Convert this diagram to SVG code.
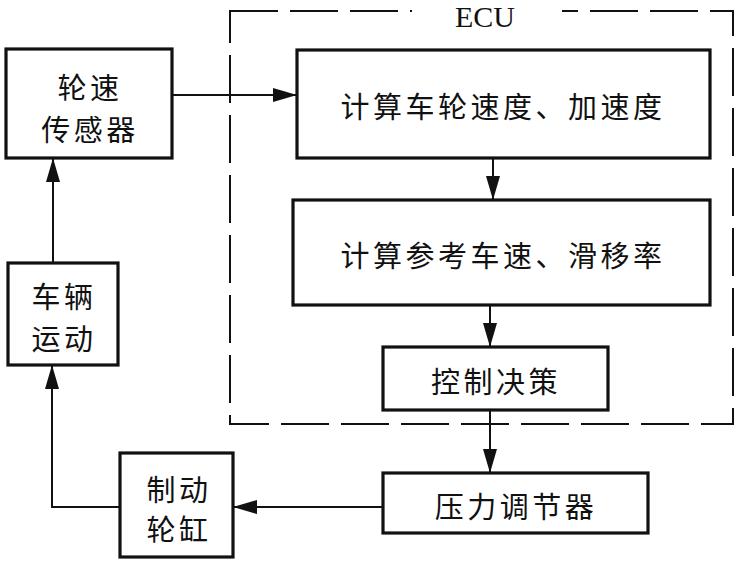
<svg xmlns="http://www.w3.org/2000/svg" width="739" height="563" viewBox="0 0 739 563">
<style>
.box{fill:#fff;stroke:#111;stroke-width:3.2}
.t{font-family:"Noto Sans CJK SC",sans-serif;font-size:29px;letter-spacing:3.5px;fill:#111;text-anchor:middle;dominant-baseline:central}
.c{fill:none;stroke:#111;stroke-width:2}
.ecu{fill:none;stroke:#111;stroke-width:2;stroke-dasharray:48 12}
</style>
<defs>
<marker id="ah" viewBox="0 0 24 14" refX="24" refY="7" markerWidth="24" markerHeight="14" markerUnits="userSpaceOnUse" orient="auto">
<path d="M0,0 L24,7 L0,14 Z" fill="#111"/>
</marker>
</defs>
<rect width="739" height="563" fill="#fff"/>
<g id="ecu">
<rect class="ecu" x="230" y="11" width="503" height="413"/>
<rect x="412" y="0" width="150" height="24" fill="#fff"/>
<text x="485" y="27" font-family="Liberation Serif,serif" font-size="30" text-anchor="middle" fill="#111">ECU</text>
</g>
<g id="connectors">
<path class="c" d="M172,95 L297,95" marker-end="url(#ah)"/>
<path class="c" d="M493,158 L493,200" marker-end="url(#ah)"/>
<path class="c" d="M490,305 L490,347" marker-end="url(#ah)"/>
<path class="c" d="M490,410 L490,473" marker-end="url(#ah)"/>
<path class="c" d="M383,507 L233,507" marker-end="url(#ah)"/>
<path class="c" d="M120,507 L52,507 L52,365" marker-end="url(#ah)"/>
<path class="c" d="M53,263 L53,158" marker-end="url(#ah)"/>
</g>
<g id="sensor">
<rect class="box" x="6" y="49" width="166" height="109"/>
<text class="t" x="90" y="86">轮速</text>
<text class="t" x="90" y="128">传感器</text>
</g>
<g id="calc1">
<rect class="box" x="297" y="50" width="413" height="108"/>
<text class="t" x="503" y="105">计算车轮速度、加速度</text>
</g>
<g id="calc2">
<rect class="box" x="293" y="200" width="417" height="105"/>
<text class="t" x="503" y="254">计算参考车速、滑移率</text>
</g>
<g id="decision">
<rect class="box" x="383" y="347" width="225" height="63"/>
<text class="t" x="496" y="380">控制决策</text>
</g>
<g id="regulator">
<rect class="box" x="383" y="473" width="265" height="60"/>
<text class="t" x="516" y="505">压力调节器</text>
</g>
<g id="cylinder">
<rect class="box" x="120" y="453" width="113" height="104"/>
<text class="t" x="179" y="488">制动</text>
<text class="t" x="179" y="528">轮缸</text>
</g>
<g id="vehicle">
<rect class="box" x="8" y="263" width="110" height="102"/>
<text class="t" x="64" y="295">车辆</text>
<text class="t" x="64" y="337">运动</text>
</g>
</svg>
